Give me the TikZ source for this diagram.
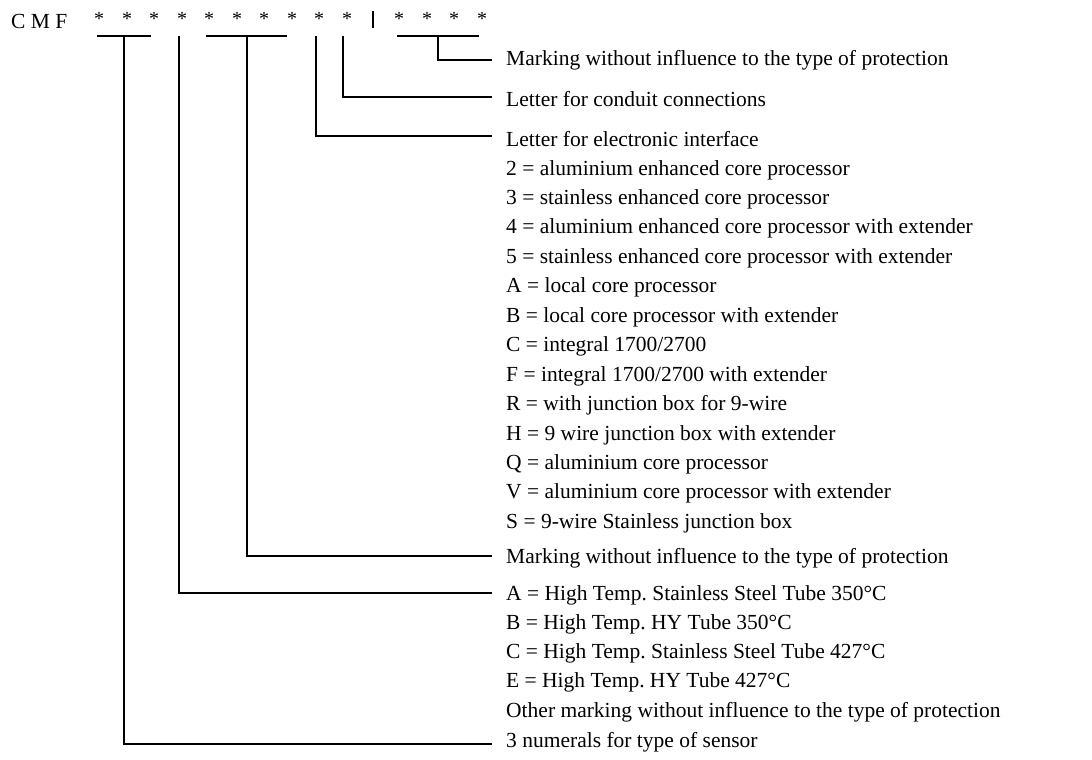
\documentclass[tikz,border=0pt]{standalone}
\usepackage{fontspec}
\setmainfont{Liberation Serif}
\frenchspacing
\begin{document}
\begin{tikzpicture}[x=1pt,y=-1pt,
  lbl/.style={anchor=base west, inner sep=0pt, font=\fontsize{21.5}{24}\selectfont},
  starlbl/.style={anchor=base, inner sep=0pt, font=\fontsize{20}{22}\selectfont},
  conn/.style={line width=1.8pt, line join=miter},
  sepbar/.style={line width=1.4pt}]
\useasboundingbox (0,0) rectangle (1092,760);

% header
\node[lbl] (cmf) at (11,29) {C M F};
\foreach \i/\x in {1/99,2/127,3/154,4/182,5/209,6/237,7/264,8/292,9/319,10/347,11/399,12/427,13/454,14/482}
  \node[starlbl] (s\i) at (\x,25.5) {*};
\coordinate (sepT) at (373,11);
\coordinate (sepB) at (373,28);
\draw[sepbar] (sepT) -- (sepB);

% labels
\node[lbl] (t1) at (506,66) {Marking without influence to the type of protection};
\node[lbl] (t2) at (506,106) {Letter for conduit connections};
\node[lbl] (t3) at (506,146) {Letter for electronic interface};
\node[lbl] (t4) at (506,175) {2 = aluminium enhanced core processor};
\node[lbl] (t5) at (506,204) {3 = stainless enhanced core processor};
\node[lbl] (t6) at (506,233) {4 = aluminium enhanced core processor with extender};
\node[lbl] (t7) at (506,263) {5 = stainless enhanced core processor with extender};
\node[lbl] (t8) at (506,292) {A = local core processor};
\node[lbl] (t9) at (506,322) {B = local core processor with extender};
\node[lbl] (t10) at (506,351) {C = integral 1700/2700};
\node[lbl] (t11) at (506,381) {F = integral 1700/2700 with extender};
\node[lbl] (t12) at (506,410) {R = with junction box for 9-wire};
\node[lbl] (t13) at (506,440) {H = 9 wire junction box with extender};
\node[lbl] (t14) at (506,469) {Q = aluminium core processor};
\node[lbl] (t15) at (506,498) {V = aluminium core processor with extender};
\node[lbl] (t16) at (506,528) {S = 9-wire Stainless junction box};
\node[lbl] (t17) at (506,563) {Marking without influence to the type of protection};
\node[lbl] (t18) at (506,600) {A = High Temp. Stainless Steel Tube 350°C};
\node[lbl] (t19) at (506,629) {B = High Temp. HY Tube 350°C};
\node[lbl] (t20) at (506,658) {C = High Temp. Stainless Steel Tube 427°C};
\node[lbl] (t21) at (506,687) {E = High Temp. HY Tube 427°C};
\node[lbl] (t22) at (506,717) {Other marking without influence to the type of protection};
\node[lbl] (t23) at (506,747) {3 numerals for type of sensor};

% connector coordinates
\coordinate (b1l) at (97,36);  \coordinate (b1r) at (151,36); \coordinate (b1m) at (124,36);
\coordinate (k2) at (179,36);
\coordinate (b3l) at (206,36); \coordinate (b3r) at (287,36); \coordinate (b3m) at (247,36);
\coordinate (k4) at (316,36);
\coordinate (k5) at (343,36);
\coordinate (b6l) at (397,36); \coordinate (b6r) at (479,36); \coordinate (b6m) at (438,36);
\coordinate (e1) at (492,744);
\coordinate (e2) at (492,593);
\coordinate (e3) at (492,556);
\coordinate (e4) at (492,136);
\coordinate (e5) at (492,97);
\coordinate (e6) at (492,60);

% connectors
\draw[conn] (b1l) -- (b1r);
\draw[conn] (b1m) |- (e1);
\draw[conn] (k2) |- (e2);
\draw[conn] (b3l) -- (b3r);
\draw[conn] (b3m) |- (e3);
\draw[conn] (k4) |- (e4);
\draw[conn] (k5) |- (e5);
\draw[conn] (b6l) -- (b6r);
\draw[conn] (b6m) |- (e6);
\end{tikzpicture}
\end{document}
